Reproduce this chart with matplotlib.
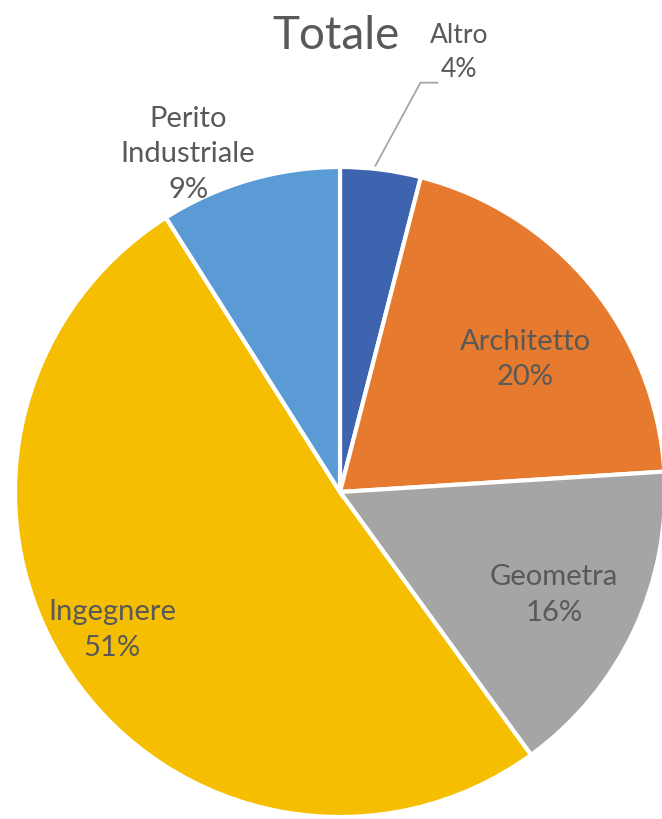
import numpy as np
import matplotlib
matplotlib.use("Agg")
import matplotlib.pyplot as plt

categories = ["Altro", "Architetto", "Geometra", "Ingegnere", "Perito\nIndustriale"]
shares = [4, 20, 16, 51, 9]
colors = ["#3F64AF", "#E67A2E", "#A5A5A5", "#F6BE00", "#5B9BD5"]

plt.rcParams['font.family'] = ['Lato', 'DejaVu Sans']
text_color = "#595959"

W, H = 662, 819
fig = plt.figure(figsize=(W / 100, H / 100), dpi=100)
ax = fig.add_axes([0, 0, 1, 1])

cx, cy, r = 340, H - 492, 325
wedges, _ = ax.pie(shares, colors=colors, startangle=90, counterclock=False,
                   center=(cx, cy), radius=r, frame=True,
                   wedgeprops=dict(edgecolor="white", linewidth=3))
ax.set_xlim(0, W)
ax.set_ylim(0, H)
ax.axis("off")

# label radius (fraction of r), angle offset and font size per slice
label_pos = [(1.40, -8, 19), (0.70, -4, 21), (0.73, -0.5, 21), (0.82, -3, 21), (1.14, 8, 21)]
for w, cat, val, (rf, da, fs) in zip(wedges, categories, shares, label_pos):
    ang = np.deg2rad((w.theta1 + w.theta2) / 2 + da)
    x = cx + rf * r * np.cos(ang)
    y = cy + rf * r * np.sin(ang)
    ax.text(x, y, f"{cat}\n{val}%", ha="center", va="center", fontsize=fs,
            color=text_color, linespacing=1.45)

# leader line for Altro
a = np.deg2rad((wedges[0].theta1 + wedges[0].theta2) / 2 + 1)
x0, y0 = cx + 1.01 * r * np.cos(a), cy + 1.01 * r * np.sin(a)
ax.plot([x0, x0 + 45, x0 + 62], [y0, y0 + 83, y0 + 83], color="#A6A6A6", lw=1.3)

ax.text(336, H - 36, "Totale", ha="center", va="center", fontsize=33,
        color=text_color)

fig.savefig("out.png", dpi=100, facecolor="white")
